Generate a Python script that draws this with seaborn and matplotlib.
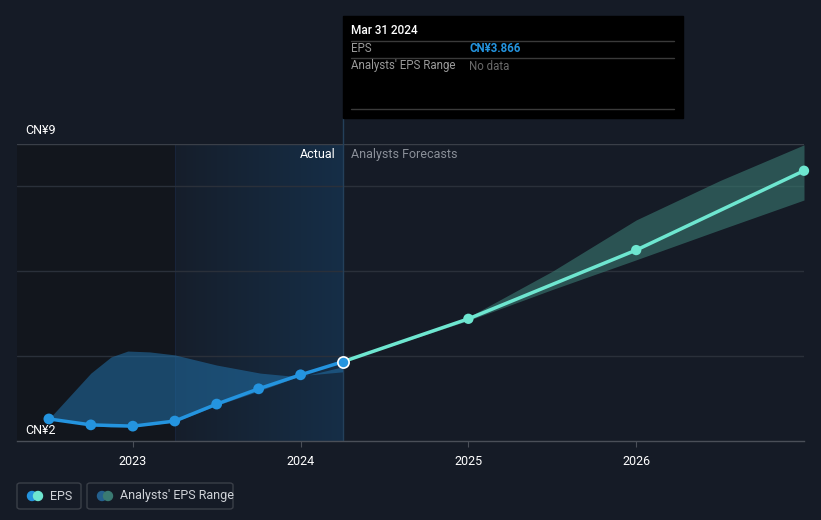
import numpy as np
import matplotlib.pyplot as plt
import matplotlib.patches as mpatches
from matplotlib.colors import LinearSegmentedColormap
import seaborn as sns
import pandas as pd

# EPS history (decimal years) and forecasts, CN¥
eps_x = [2022.5, 2022.75, 2023.0, 2023.25, 2023.5, 2023.75, 2024.0, 2024.25]
eps_y = [2.52, 2.38, 2.35, 2.47, 2.87, 3.23, 3.56, 3.866]

fc_x = [2024.25, 2025.0, 2026.0, 2027.0]
fc_y = [3.866, 4.88, 6.50, 8.37]

# forecast range edges
fcr_x = [2024.25, 2025.0, 2025.5, 2026.0, 2026.5, 2027.0]
fcr_low = [3.866, 4.84, 5.57, 6.27, 6.98, 7.68]
fcr_high = [3.866, 4.92, 6.00, 7.21, 8.14, 8.98]

# past analyst range
rng_x = [2022.5, 2022.75, 2022.87, 2022.97, 2023.1, 2023.25, 2023.5, 2023.76, 2024.0, 2024.25]
rng_hi = [2.52, 3.60, 3.98, 4.12, 4.10, 4.03, 3.79, 3.60, 3.51, 3.75]
rng_lo = [2.52, 2.36, 2.33, 2.34, 2.38, 2.45, 2.84, 3.19, 3.54, 3.63]

xticks = [2023, 2024, 2025, 2026]

BG = '#151b26'
sns.set_style("dark")
plt.rcParams['font.family'] = ['Roboto', 'DejaVu Sans']

fig = plt.figure(figsize=(8.21, 5.2), dpi=100, facecolor=BG)
ax = fig.add_axes([17/821, 1 - 441/520, (804-17)/821, (441-144)/520])
ax.set_facecolor(BG)
x0, x1 = 2022.31, 2027.0
ax.set_xlim(x0, x1)
ax.set_ylim(2, 9)

# shaded background regions
ax.axvspan(x0, 2023.25, color='#12161d', zorder=0, lw=0)
grad = np.linspace(0, 1, 256).reshape(1, -1)
cmap = LinearSegmentedColormap.from_list('g', ['#151e2b', '#162e47'])
ax.imshow(grad, extent=[2023.25, 2024.25, 2, 9], aspect='auto', cmap=cmap, zorder=0.5)
ax.axvline(2023.25, color='#18243a', lw=0.8, zorder=0.6)

for g in [4, 6, 8]:
    ax.axhline(g, color='#2a303a', lw=1, zorder=1)
ax.axhline(9, color='#3a3f48', lw=1, zorder=1)

# bands
ax.fill_between(rng_x, rng_lo, rng_hi, color='#2170a8', alpha=0.55, lw=0, zorder=2)
ax.fill_between(fcr_x, fcr_low, fcr_high, color='#3a7a72', alpha=0.6, lw=0, zorder=2)

hist = pd.DataFrame({'x': eps_x, 'y': eps_y})
fc = pd.DataFrame({'x': fc_x, 'y': fc_y})
sns.lineplot(data=fc, x='x', y='y', ax=ax, color='#6ee6d0', lw=2.5, zorder=3)
sns.scatterplot(data=fc.iloc[1:], x='x', y='y', ax=ax, color='#6ee6d0', s=55, edgecolor='none', zorder=4, clip_on=False)
sns.lineplot(data=hist, x='x', y='y', ax=ax, color='#2494df', lw=2.5, zorder=3)
sns.scatterplot(data=hist.iloc[:-1], x='x', y='y', ax=ax, color='#2494df', s=60, edgecolor='none', zorder=4)
ax.scatter([eps_x[-1]], [eps_y[-1]], s=65, color='#2494df', edgecolor='white', lw=1.2, zorder=5, clip_on=False)

# tooltip guide line
ax.plot([2024.25, 2024.25], [2, 9], color='#24405a', lw=1, zorder=1.5)
fig.add_artist(plt.Line2D([343/821, 343/821], [1 - 144/520, 1 - 118/520], color='#24405a', lw=1))

ax.set_xticks(xticks)
ax.set_xticklabels([str(t) for t in xticks], color='white', fontsize=9)
ax.set_yticks([])
ax.tick_params(axis='x', length=4, color='#4a4f58', pad=6, bottom=True)
ax.set_xlabel('')
ax.set_ylabel('')
for s in ['top', 'left', 'right']:
    ax.spines[s].set_visible(False)
ax.spines['bottom'].set_color('#4a4f58')
ax.spines['bottom'].set_linewidth(1)

def fy(y):
    return 1 - y / 520

fig.text(25/821, fy(130), 'CN¥9', color='white', fontsize=9, va='center')
fig.text(25/821, fy(430), 'CN¥2', color='white', fontsize=9, va='center')
fig.text(336/821, fy(154), 'Actual', color='white', fontsize=9, va='center', ha='right')
fig.text(351/821, fy(154), 'Analysts Forecasts', color='#8a8f98', fontsize=9, va='center')

# tooltip
fig.add_artist(mpatches.Rectangle((343/821, fy(118)), (683-343)/821, (118-16)/520,
                                  transform=fig.transFigure, color='black', zorder=5))
fig.text(351/821, fy(31), 'Mar 31 2024', color='white', fontsize=8.5, va='center', zorder=6, weight='medium')
for yy in [41, 58, 109]:
    fig.add_artist(plt.Line2D([351/821, 674/821], [fy(yy), fy(yy)], color='#3a3a3a', lw=1, zorder=6))
fig.text(351/821, fy(49), 'EPS', color='#9a9a9a', fontsize=8.3, va='center', zorder=6)
fig.text(469/821, fy(49), 'CN¥3.866', color='#2494df', fontsize=8.3, va='center', zorder=6, weight='bold')
fig.text(351/821, fy(66), "Analysts' EPS Range", color='#9a9a9a', fontsize=8.3, va='center', zorder=6)
fig.text(469/821, fy(66), 'No data', color='#6a6a6a', fontsize=8.3, va='center', zorder=6)

# legend boxes
for (bx0, bx1, label, c1, c2) in [(17, 81, 'EPS', '#2494df', '#6ee6d0'),
                                  (87, 233, "Analysts' EPS Range", '#24608e', '#3a7a72')]:
    fig.add_artist(mpatches.FancyBboxPatch((bx0/821, fy(509)), (bx1-bx0)/821, 26/520,
                                           boxstyle='round,pad=0,rounding_size=0.004',
                                           transform=fig.transFigure, fc='none', ec='#3a3f48', lw=1))
    fig.add_artist(mpatches.Ellipse(((bx0+15)/821, fy(496)), 9/821, 9/520, transform=fig.transFigure, color=c1))
    fig.add_artist(mpatches.Ellipse(((bx0+21)/821, fy(496)), 9/821, 9/520, transform=fig.transFigure, color=c2))
    fig.text((bx0+33)/821, fy(496), label, color='#d0d3d8', fontsize=9, va='center')

fig.savefig('out.png', dpi=100, facecolor=BG)
